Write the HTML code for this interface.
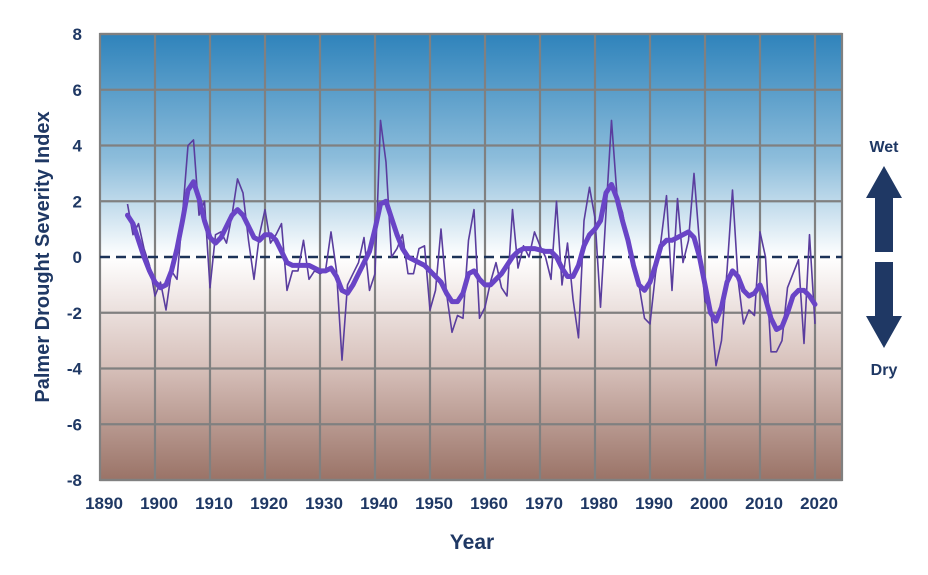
<!DOCTYPE html>
<html><head><style>
html,body{margin:0;padding:0;background:#fff;}
svg{display:block;font-family:"Liberation Sans",sans-serif;}
</style></head><body>
<svg id="s" width="928" height="575" viewBox="0 0 928 575" xmlns="http://www.w3.org/2000/svg">
<defs>
<linearGradient id="bg" x1="0" y1="0" x2="0" y2="1">
<stop offset="0" stop-color="#2f83bb"/>
<stop offset="0.28" stop-color="#8dbddb"/>
<stop offset="0.5" stop-color="#ffffff"/>
<stop offset="0.75" stop-color="#d6bfb9"/>
<stop offset="1" stop-color="#9a7367"/>
</linearGradient>
</defs>
<rect x="100" y="34" width="742" height="446" fill="url(#bg)"/>
<g id="grid" stroke="#808080" stroke-width="2.2" fill="none"></g>
<line x1="100" y1="257" x2="842" y2="257" stroke="#1c3358" stroke-width="2.5" stroke-dasharray="10,6"/>
<polyline id="thin" fill="none" stroke="#5a3d9e" stroke-width="1.6" stroke-linejoin="round"/>
<polyline id="thick" fill="none" stroke="#6944c6" stroke-width="5" stroke-linejoin="round" stroke-linecap="round"/>
<g id="labels" fill="#1f3864" font-weight="bold" font-size="17"></g>
<text x="0" y="0" transform="translate(49,257) rotate(-90)" text-anchor="middle" fill="#1f3864" font-weight="bold" font-size="20">Palmer Drought Severity Index</text>
<text x="472" y="549" text-anchor="middle" fill="#1f3864" font-weight="bold" font-size="21">Year</text>
<text x="884" y="152" text-anchor="middle" fill="#1f3864" font-weight="bold" font-size="16">Wet</text>
<text x="884" y="375" text-anchor="middle" fill="#1f3864" font-weight="bold" font-size="16">Dry</text>
<polygon points="884,166 902,198 893,198 893,252 875,252 875,198 866,198" fill="#1f3864"/>
<polygon points="884,348 902,316 893,316 893,262 875,262 875,316 866,316" fill="#1f3864"/>
</svg>
<script>
var X=function(y){return 100+(y-1890)*5.5;},Y=function(v){return 257-v*27.875;};
var g=document.getElementById('grid'),L=document.getElementById('labels'),ns="http://www.w3.org/2000/svg";
function el(p,t,a,txt){var e=document.createElementNS(ns,t);for(var k in a)e.setAttribute(k,a[k]);if(txt)e.textContent=txt;p.appendChild(e);}
for(var v=-8;v<=8;v+=2){if(v!=0)el(g,'line',{x1:100,x2:842,y1:Y(v),y2:Y(v)});el(L,'text',{x:82,y:Y(v)+6,'text-anchor':'end'},String(v));}
for(var yr=1890;yr<=2020;yr+=10){if(yr>1890)el(g,'line',{x1:X(yr),x2:X(yr),y1:34,y2:480});el(L,'text',{x:X(yr)+4,y:509,'text-anchor':'middle'},String(yr));}
el(g,'rect',{x:100,y:34,width:742,height:446});
var thin=[1.9,0.8,1.2,0.3,-0.3,-1.4,-0.9,-1.9,-0.5,-0.8,1.5,4.0,4.2,1.5,2.0,-1.1,0.8,0.9,0.5,1.5,2.8,2.3,0.6,-0.8,0.8,1.7,0.5,0.8,1.2,-1.2,-0.5,-0.5,0.6,-0.8,-0.5,-0.6,-0.5,0.9,-0.5,-3.7,-1.0,-0.6,-0.2,0.7,-1.2,-0.6,4.9,3.4,0.0,0.3,0.8,-0.6,-0.6,0.3,0.4,-1.9,-1.2,1.0,-1.3,-2.7,-2.1,-2.2,0.6,1.7,-2.2,-1.8,-0.9,-0.2,-1.1,-1.4,1.7,-0.4,0.4,0.0,0.9,0.4,0.0,-0.8,2.0,-1.0,0.5,-1.5,-2.9,1.3,2.5,1.4,-1.8,1.6,4.9,2.2,1.6,0.5,-0.5,-1.0,-2.2,-2.4,-0.6,0.6,2.2,-1.2,2.1,-0.2,0.6,3.0,0.5,-1.6,-1.8,-3.9,-3.0,-0.5,2.4,-0.8,-2.4,-1.9,-2.1,0.9,0.0,-3.4,-3.4,-3.0,-1.1,-0.6,-0.1,-3.1,0.8,-2.4];
var thick=[1.5,1.2,0.6,0.0,-0.5,-0.9,-1.1,-1.0,-0.5,0.3,1.3,2.4,2.7,2.1,1.3,0.7,0.5,0.7,1.1,1.5,1.7,1.5,1.1,0.7,0.6,0.8,0.8,0.6,0.2,-0.2,-0.3,-0.3,-0.3,-0.3,-0.4,-0.5,-0.5,-0.4,-0.7,-1.2,-1.3,-1.0,-0.6,-0.2,0.2,1.0,1.9,2.0,1.4,0.8,0.3,0.0,-0.1,-0.2,-0.3,-0.5,-0.7,-0.9,-1.3,-1.6,-1.6,-1.3,-0.6,-0.5,-0.8,-1.0,-1.0,-0.8,-0.6,-0.3,0.0,0.2,0.3,0.3,0.3,0.25,0.2,0.2,0.0,-0.4,-0.7,-0.7,-0.3,0.4,0.8,1.0,1.3,2.3,2.6,2.1,1.3,0.6,-0.3,-1.0,-1.2,-0.9,-0.3,0.4,0.6,0.6,0.7,0.8,0.9,0.7,0.0,-1.0,-2.0,-2.3,-1.8,-0.9,-0.5,-0.7,-1.2,-1.4,-1.3,-1.0,-1.5,-2.2,-2.6,-2.5,-2.0,-1.4,-1.2,-1.2,-1.4,-1.7];
function pts(a){return a.map(function(v,i){return X(1895+i).toFixed(1)+','+Y(v).toFixed(1);}).join(' ');}
document.getElementById('thin').setAttribute('points',pts(thin));
document.getElementById('thick').setAttribute('points',pts(thick));
</script>
</body></html>
